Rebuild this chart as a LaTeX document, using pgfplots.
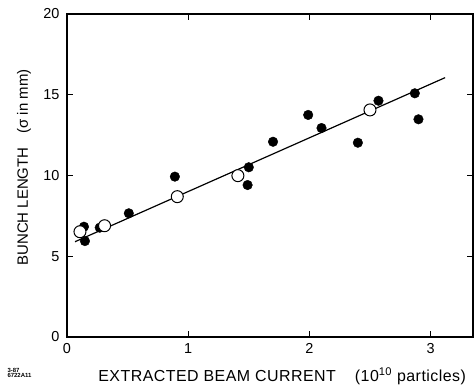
\documentclass[border=0pt]{standalone}
\usepackage{fontspec}
\setmainfont{Liberation Sans}
\usepackage{pgfplots}
\pgfplotsset{compat=1.18}
\begin{document}
\begin{tikzpicture}[x=1bp,y=1bp]
\useasboundingbox (-67bp,-50bp) rectangle (407bp,337bp);
\begin{axis}[
  at={(0,0)}, anchor=south west,
  width=406bp, height=323bp, scale only axis,
  xmin=0, xmax=3.35, ymin=0, ymax=20,
  xtick={0,1,2,3}, ytick={0,5,10,15,20},
  tick align=inside, major tick length=6bp,
  xtick pos=both, ytick pos=both,
  /pgf/number format/assume math mode=true,
  ticklabel style={font=\fontsize{14.5}{16}\selectfont},
  xticklabel style={yshift=-3bp},
  yticklabel style={xshift=-4bp},
  axis line style={line width=1.1pt},
  tick style={line width=1pt, black},
  xlabel={EXTRACTED BEAM CURRENT\hspace{19bp}(10\textsuperscript{10} particles)},
  ylabel={BUNCH LENGTH\hspace{14bp}(σ in mm)},
  xlabel style={font=\fontsize{16}{18}\selectfont\addfontfeature{LetterSpace=3}, at={(axis description cs:0.53,-0.121)}, anchor=center},
  ylabel style={font=\fontsize{15}{17}\selectfont, at={(axis description cs:-0.106,0.525)}, anchor=center},
  clip=false,
]
\addplot[black, line width=1.2pt] coordinates {(0.066,5.9) (3.12,16.06)};
\addplot[only marks, mark=*, mark size=4.8bp, black] coordinates {
(0.14,6.83) (0.148,5.94) (0.27,6.77) (0.51,7.66) (1.49,9.41) (0.89,9.93)
(1.50,10.51) (1.70,12.09) (1.99,13.75) (2.10,12.94) (2.40,12.03)
(2.57,14.63) (2.87,15.09) (2.90,13.48)};
\addplot[only marks, mark=*, mark size=6bp, black, mark options={fill=white, line width=1pt}] coordinates {
(0.107,6.52) (0.31,6.89) (0.91,8.69) (1.41,9.99) (2.50,14.06)};
\end{axis}
\node[font=\fontsize{6}{6.5}\selectfont\bfseries, align=left, anchor=west] at (-63bp,-36bp) {3-87\\[-1bp]6722A11};
\end{tikzpicture}
\end{document}
